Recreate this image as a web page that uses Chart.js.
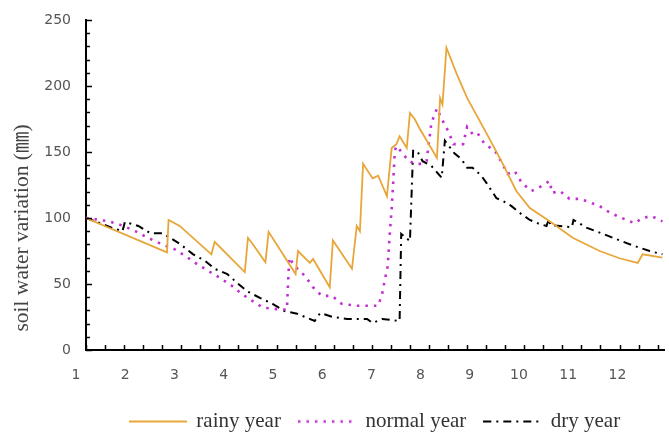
<!DOCTYPE html>
<html>
<head>
<meta charset="utf-8">
<script src="https://cdn.jsdelivr.net/npm/chart.js@4.4.1/dist/chart.umd.min.js"></script>
<style>
  html, body { margin: 0; padding: 0; background: #fff; }
  canvas { display: block; }
</style>
</head>
<body>
<canvas id="soilChart" width="669" height="432"></canvas>
<script>
// ---------------------------------------------------------
// data (x = day of year, y = soil water in mm)
// ---------------------------------------------------------
const monthLabels = ["1", "2", "3", "4", "5", "6", "7", "8", "9", "10", "11", "12"];
const monthTickDays = [1, 32, 63, 94, 125, 156, 187, 218, 249, 280, 311, 342];
const xTickStep = 12; // small tick marks along the bottom
const yTickStep = 10; // small tick marks along the left

const rainyDays = [1, 52, 53, 60, 80, 82, 101, 103, 105.5, 114,
  116, 133, 134.5, 142, 144, 154.5, 156.5, 168.5, 171.5, 173.5,
  175.5, 181.5, 185, 190.5, 193.5, 196.5, 198.5, 200.5, 203, 205,
  208, 211, 222, 224, 225.5, 228, 234.5, 241, 253.5, 263.5,
  272, 280.5, 293, 307.5, 324.5, 337, 348.5, 351.5, 364];
const rainyValues = [100, 74, 98.5, 94, 72.5, 82, 59, 85, 81, 66.5,
  89.5, 57.5, 75, 66, 69, 47.5, 83, 61.5, 94, 90,
  141, 130, 132, 116.5, 153, 156, 162, 158, 153, 179.5,
  175, 168, 145.5, 191, 186, 229, 209, 191, 163.5, 141,
  120.5, 107.5, 97.5, 85, 75, 69.5, 66, 72.5, 70];

const normalDays = [1, 15.5, 24.5, 32, 40, 49, 56.5, 64.5, 71, 78,
  85.5, 93, 99, 106, 112.5, 121, 127.5, 129, 132.5, 139,
  144, 149.5, 156, 162, 171.5, 178, 185, 187.5, 189, 191,
  192.5, 193.5, 194.5, 195.5, 196.5, 200.5, 203.5, 208, 213, 215.5,
  218.5, 222, 225, 229, 232.5, 238.5, 241, 244.5, 247.5, 252,
  258.5, 263, 266.5, 271, 275.5, 281.5, 285.5, 293, 294.5, 299.5,
  305.5, 312, 318, 324.5, 331, 338.5, 346.5, 351.5, 357, 364];
const normalValues = [100, 97.5, 94, 90, 85, 80, 76.5, 70.5, 65, 60,
  54.5, 48.5, 42.5, 37, 32, 31, 30.5, 70, 63.5, 56,
  47.5, 41, 41, 35, 33.5, 33.5, 33.5, 42.5, 52, 63.5,
  91.5, 107, 128, 151, 154.5, 149, 144, 141, 141, 143,
  172, 183, 175, 166, 156, 156, 169, 163.5, 164.5, 156,
  151, 141.5, 133.5, 135.5, 126.5, 120.5, 122.5, 128, 119, 120.5,
  114.5, 114.5, 112, 109, 104, 100, 96, 100, 101.5, 97.5];

const dryDays = [1, 10, 17.5, 24, 25.5, 34, 41.5, 49, 54, 60,
  68.5, 76, 82, 90, 96, 102.5, 110.5, 118.5, 126, 134,
  145, 148.5, 156.5, 165.5, 178, 181.5, 187.5, 198.5, 199.5, 205,
  207, 209.5, 213, 218.5, 225, 227, 233, 237.5, 241, 244.5,
  250, 253.5, 259.5, 263.5, 269, 274, 280.5, 286.5, 291, 292.5,
  293.5, 299.5, 307, 308, 316.5, 326.5, 335, 341.5, 349.5, 356, 364];
const dryValues = [100, 96, 92.5, 90, 97, 94, 88.5, 88.5, 85, 80.5,
  72.5, 67.5, 61.5, 57.5, 51, 44.5, 39.5, 35, 29.5, 27.5,
  22, 28, 25, 23.5, 23.5, 20.5, 23.5, 22, 88, 82.5,
  151, 151, 143, 139.5, 130.5, 158.5, 149, 144.5, 138, 138,
  132, 126, 115, 113, 109, 104, 98.5, 95.5, 94, 99,
  94.5, 94, 93, 98.5, 92.5, 88, 84, 81, 77.5, 75, 72.5];

const toPoints = (xs, ys) => xs.map((x, i) => ({ x: x, y: ys[i] }));

// line styles, shared by the plot lines and their legend samples
const rainyStyle = { color: "#E8A63A", width: 1.8, dash: [] };
const normalStyle = { color: "#C22FD0", width: 2.6, dash: [2.5, 6] };
const dryStyle = { color: "#000", width: 2, dash: [8, 5, 2, 5] };

// small canvas used as legend sample (chart.js drops the dash on "line" point styles)
function legendSample(style) {
  const c = document.createElement("canvas");
  c.width = 58;
  c.height = 6;
  const g = c.getContext("2d");
  g.strokeStyle = style.color;
  g.lineWidth = style.width;
  g.setLineDash(style.dash);
  g.beginPath();
  g.moveTo(0, 3);
  g.lineTo(58, 3);
  g.stroke();
  return c;
}

// ---------------------------------------------------------
// small plugins: inward tick marks + y axis title
// ---------------------------------------------------------
const inwardTicks = {
  id: "inwardTicks",
  afterDraw(chart) {
    const { ctx, scales } = chart;
    const x = scales.x;
    const y = scales.y;
    ctx.save();
    ctx.strokeStyle = "#000";
    ctx.lineWidth = 1.5;
    ctx.beginPath();
    for (let v = y.min; v <= y.max; v += yTickStep) {
      const py = Math.round(y.getPixelForValue(v)) + 0.5;
      ctx.moveTo(x.left, py);
      ctx.lineTo(x.left + (v % 50 === 0 ? 6 : 4), py);
    }
    for (let d = x.min; d <= x.max; d += xTickStep) {
      const px = Math.round(x.getPixelForValue(d)) + 0.5;
      ctx.moveTo(px, y.bottom);
      ctx.lineTo(px, y.bottom - 5);
    }
    ctx.stroke();
    ctx.restore();
  },
};

const yTitle = {
  id: "yTitle",
  afterDraw(chart) {
    const { ctx } = chart;
    ctx.save();
    ctx.translate(22, 228);
    ctx.rotate(-Math.PI / 2);
    ctx.font = "21.5px 'Liberation Serif', 'Noto Sans CJK SC', serif";
    ctx.fillStyle = "#444";
    ctx.textAlign = "center";
    ctx.textBaseline = "middle";
    ctx.fillText("soil water variation (㎜)", 0, 0);
    ctx.restore();
  },
};

// ---------------------------------------------------------
// chart
// ---------------------------------------------------------
const ctx = document.getElementById("soilChart").getContext("2d");
new Chart(ctx, {
  type: "line",
  data: {
    datasets: [
      {
        label: "rainy year",
        data: toPoints(rainyDays, rainyValues),
        borderColor: rainyStyle.color,
        borderWidth: rainyStyle.width,
        pointStyle: legendSample(rainyStyle),
      },
      {
        label: "normal year",
        data: toPoints(normalDays, normalValues),
        borderColor: normalStyle.color,
        borderWidth: normalStyle.width,
        borderDash: normalStyle.dash,
        pointStyle: legendSample(normalStyle),
      },
      {
        label: "dry year",
        data: toPoints(dryDays, dryValues),
        borderColor: dryStyle.color,
        borderWidth: dryStyle.width,
        borderDash: dryStyle.dash,
        pointStyle: legendSample(dryStyle),
      },
    ],
  },
  options: {
    responsive: false,
    animation: false,
    layout: { padding: { left: 0, right: 5, top: 20, bottom: -10 } },
    elements: {
      point: { radius: 0, hoverRadius: 0 },
      line: { tension: 0, fill: false },
    },
    scales: {
      x: {
        type: "linear",
        min: 1,
        max: 365,
        afterBuildTicks: (scale) => {
          scale.ticks = monthTickDays.map((d) => ({ value: d }));
        },
        afterFit: (scale) => {
          scale.height = 43;
        },
        ticks: {
          autoSkip: false,
          maxRotation: 0,
          padding: 17,
          labelOffset: -10,
          color: "#555",
          font: { family: "'DejaVu Sans'", size: 14 },
          callback: (value, index) => monthLabels[index],
        },
        grid: { display: true, drawOnChartArea: false, drawTicks: false },
        border: { display: true, color: "#000", width: 2 },
      },
      y: {
        min: 0,
        max: 250,
        afterFit: (scale) => {
          scale.width = 86;
        },
        ticks: {
          stepSize: 50,
          padding: 0,
          color: "#555",
          font: { family: "'DejaVu Sans'", size: 14 },
        },
        // invisible outer ticks only push the labels away from the axis
        grid: {
          display: true,
          drawOnChartArea: false,
          drawTicks: true,
          tickLength: 15,
          tickColor: "rgba(0,0,0,0)",
        },
        border: { display: true, color: "#000", width: 2 },
      },
    },
    plugins: {
      legend: {
        position: "bottom",
        fullSize: false,
        labels: {
          usePointStyle: true,
          pointStyleWidth: 56,
          padding: 18,
          color: "#333",
          font: { family: "'Liberation Serif'", size: 21 },
        },
      },
      tooltip: { enabled: false },
    },
  },
  plugins: [inwardTicks, yTitle],
});
</script>
</body>
</html>
